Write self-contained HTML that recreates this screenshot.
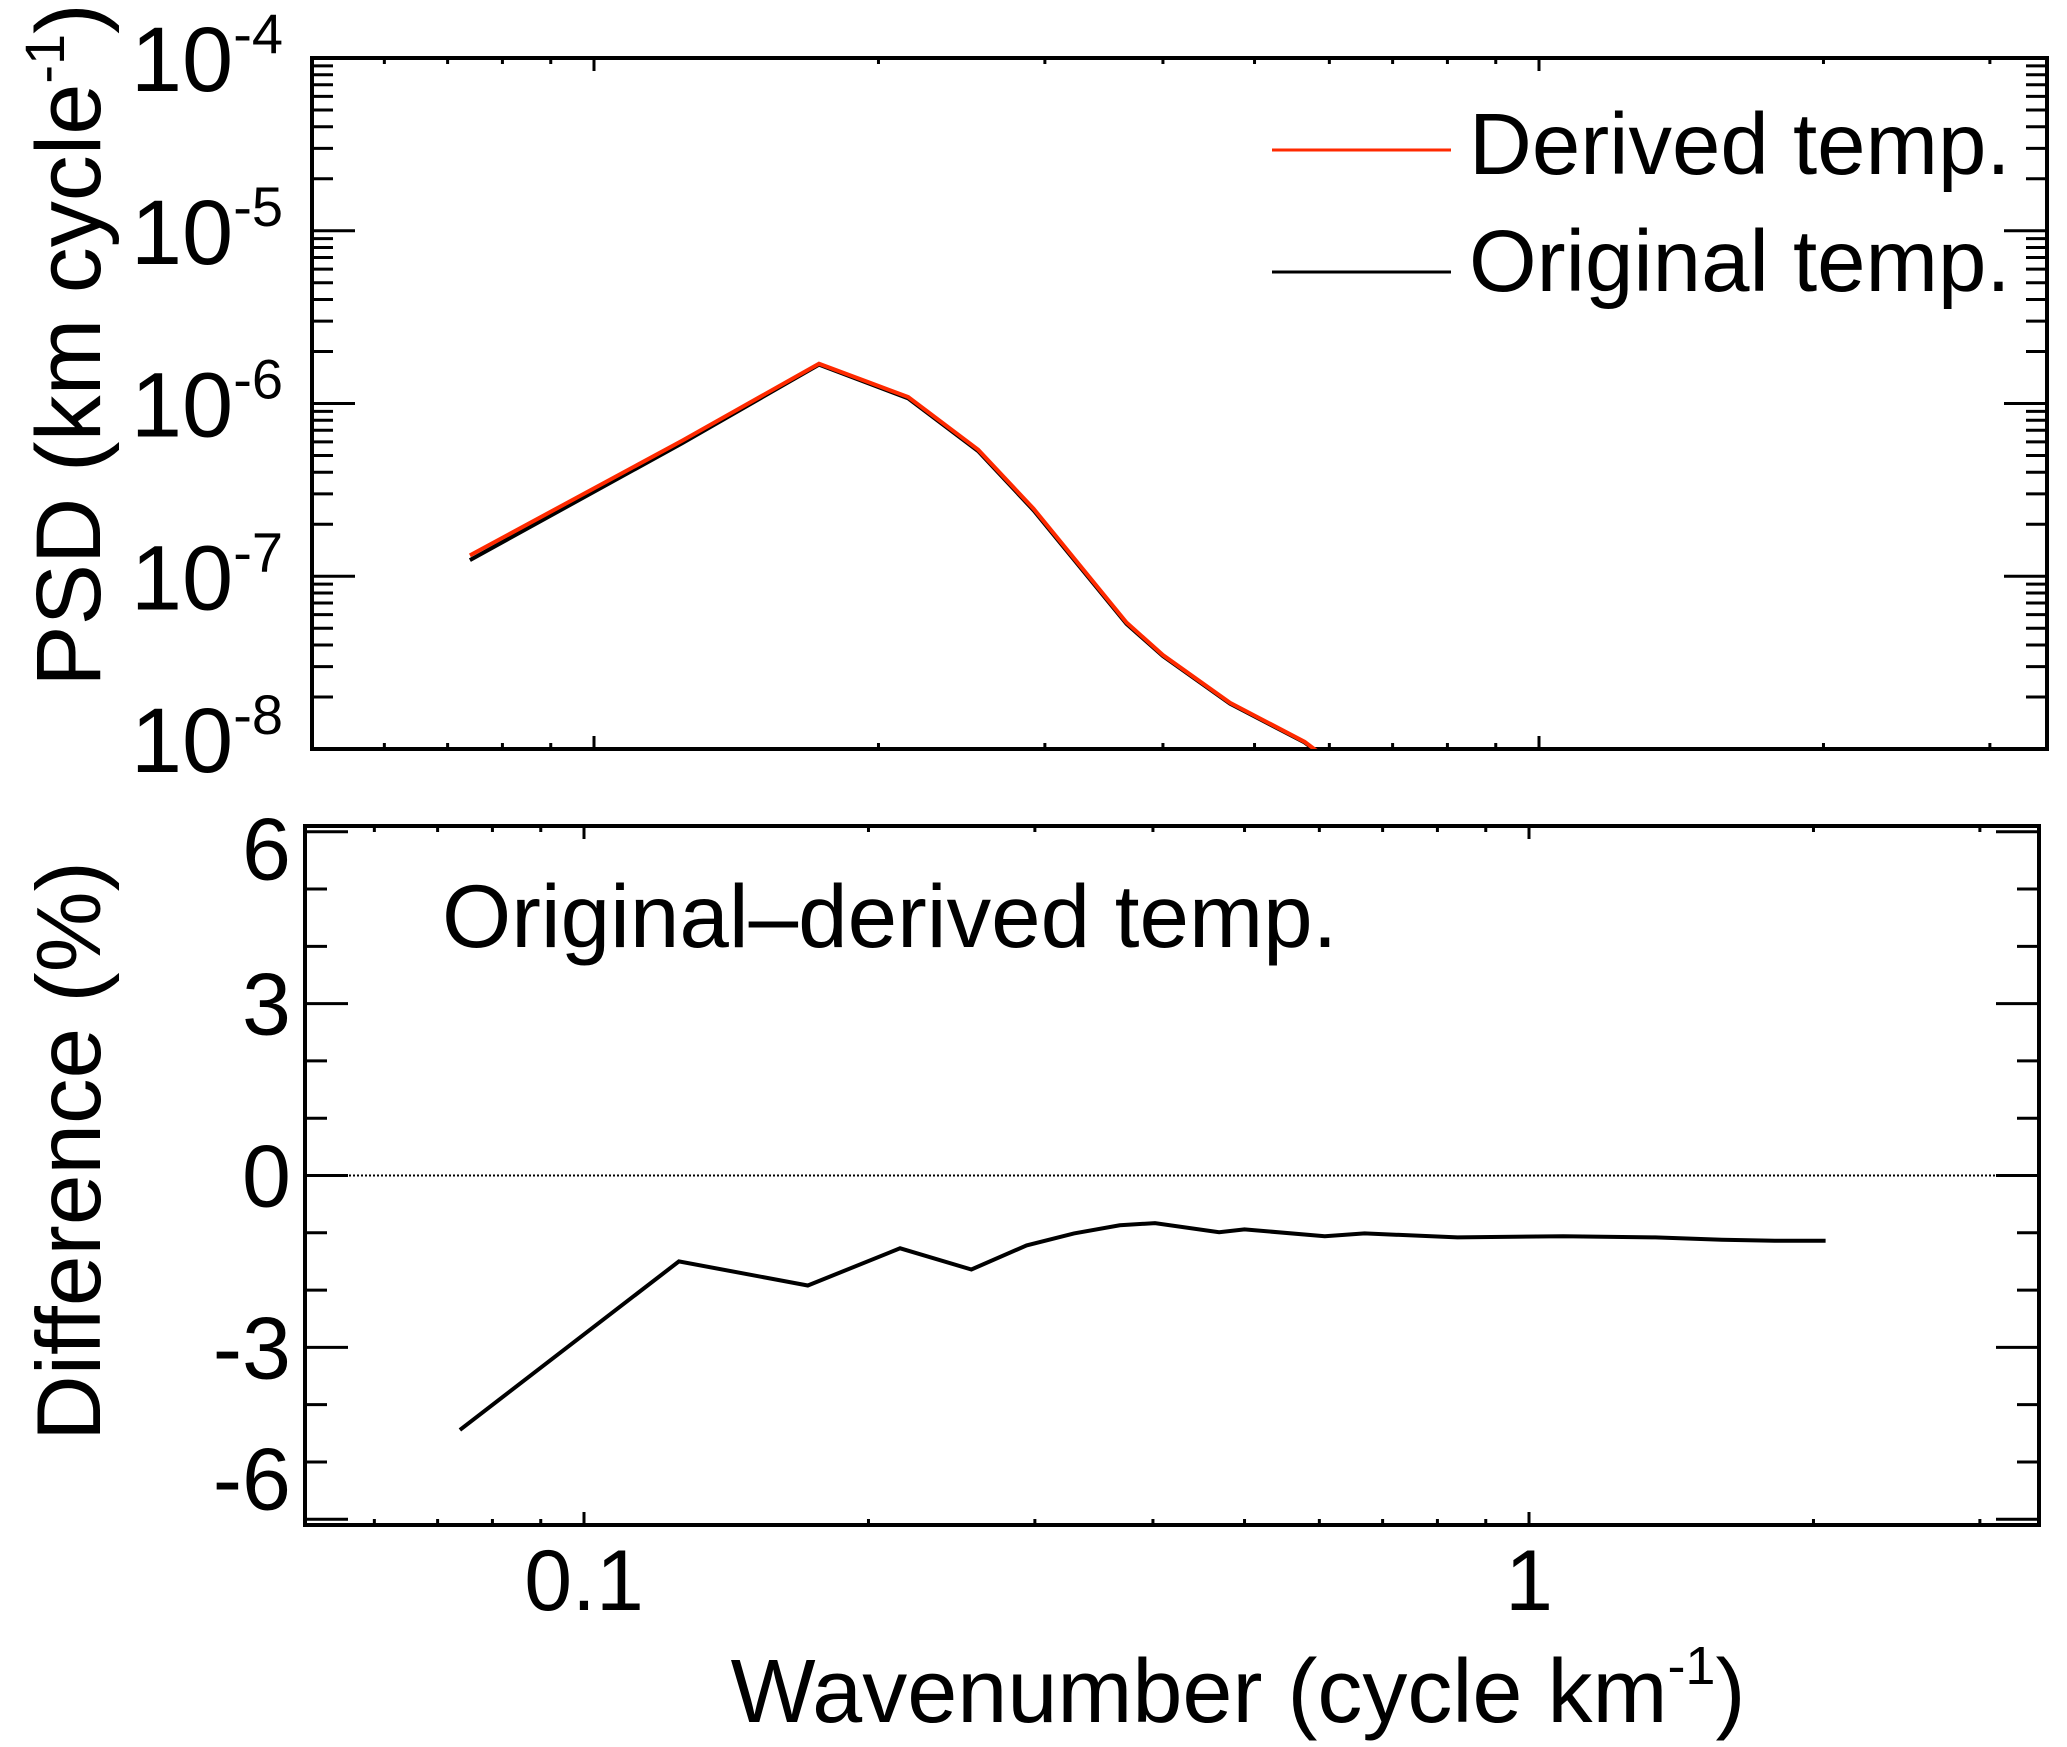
<!DOCTYPE html>
<html><head><meta charset="utf-8"><style>
html,body{margin:0;padding:0;background:#fff}
svg{display:block}
text{font-family:"Liberation Sans",Arial,sans-serif;fill:#000}
</style></head><body>
<svg id="chart" width="2067" height="1747" viewBox="0 0 2067 1747" xmlns="http://www.w3.org/2000/svg"></svg>
<script>
// ---- data ----
const psdK = [0.0739, 0.124, 0.173, 0.215, 0.255, 0.292, 0.366, 0.400, 0.471, 0.565, 0.62];
const psdDerived = [1.32e-7, 6.1e-7, 1.70e-6, 1.09e-6, 5.4e-7, 2.45e-7, 5.4e-8, 3.5e-8, 1.85e-8, 1.1e-8, 7.5e-9];
const psdOriginal = [1.24e-7, 5.9e-7, 1.68e-6, 1.07e-6, 5.3e-7, 2.4e-7, 5.3e-8, 3.45e-8, 1.83e-8, 1.09e-8, 7.4e-9];
const diffK = [0.0739, 0.126, 0.1725, 0.216, 0.257, 0.294, 0.33, 0.369, 0.402, 0.47, 0.5, 0.608, 0.67, 0.84, 1.087, 1.36, 1.6, 1.82, 2.06];
const diffVals = [-4.44, -1.50, -1.92, -1.27, -1.64, -1.22, -1.01, -0.87, -0.83, -0.99, -0.94, -1.06, -1.01, -1.08, -1.06, -1.08, -1.12, -1.14, -1.14];
const psdTickExps = [-4, -5, -6, -7, -8];
const diffTicks = [6, 3, 0, -3, -6];
const xTickLabels = ["0.1", "1"];
const xTickVals = [0.1, 1];

const NS = "http://www.w3.org/2000/svg";
const svg = document.getElementById("chart");
function mk(tag, attrs, parent) {
  const e = document.createElementNS(NS, tag);
  for (const k in attrs) e.setAttribute(k, attrs[k]);
  (parent || svg).appendChild(e);
  return e;
}
const DEC = 945;
const T = {l:312, r:2047, t:58, b:749, x1:1539};
const B = {l:305, r:2039, t:826, b:1525, x1:1529};
const xT = k => T.x1 + DEC*Math.log10(k);
const xB = k => B.x1 + DEC*Math.log10(k);
const yT = v => T.t + (-4 - Math.log10(v)) * ((T.b - T.t)/4);
const yB = v => 1175.5 - v * ((B.b - B.t)/12.2);

function xMinorTicks(P, xf, g) {
  for (let d = 0.01; d <= 10; d *= 10) {
    for (let m = 1; m <= 9; m++) {
      const x = xf(d*m);
      if (x <= P.l + 2 || x >= P.r - 2) continue;
      const len = m === 1 ? 13 : 6;
      mk("line", {x1:x, x2:x, y1:P.b, y2:P.b-len, stroke:"#000","stroke-width":3}, g);
      mk("line", {x1:x, x2:x, y1:P.t, y2:P.t+len, stroke:"#000","stroke-width":3}, g);
    }
  }
}

// ---- top panel ----
const gT = mk("g", {});


const cp = mk("clipPath", {id:"clipT"});
mk("rect", {x:T.l, y:T.t, width:T.r-T.l, height:T.b-T.t}, cp);
for (let e = -8; e < -4; e++) {
  for (let m = 1; m <= 9; m++) {
    const v = m * Math.pow(10, e);
    const y = yT(v);
    const len = m === 1 ? 43 : 21;
    mk("line", {x1:T.l, x2:T.l+len, y1:y, y2:y, stroke:"#000","stroke-width":3}, gT);
    mk("line", {x1:T.r, x2:T.r-len, y1:y, y2:y, stroke:"#000","stroke-width":3}, gT);
  }
}
xMinorTicks(T, xT, gT);
const frameT = mk("rect", {x:T.l, y:T.t, width:T.r-T.l, height:T.b-T.t, fill:"none", stroke:"#000","stroke-width":4}, gT);


psdTickExps.forEach(e => {
  const y = yT(Math.pow(10, e));
  const base = e === -8 ? y + 23 : y + 33;
  const t = mk("text", {x:283, y:base, "text-anchor":"end", "font-size":92}, gT);
  
  
  const a = mk("tspan", {}, t); a.textContent = "10";
  const b = mk("tspan", {dy:-38, "font-size":56}, t); b.textContent = "-" + Math.abs(e);
});
function pathFrom(xs, ys, xf, yf) {
  return xs.map((k,i) => (i?"L":"M") + xf(k).toFixed(1) + "," + yf(ys[i]).toFixed(1)).join(" ");
}
const lo = mk("path", {d:pathFrom(psdK, psdOriginal, xT, yT), fill:"none", stroke:"#000","stroke-width":4,"clip-path":"url(#clipT)"}, gT);


const ld = mk("path", {d:pathFrom(psdK, psdDerived, xT, yT), fill:"none", stroke:"#ff2a00","stroke-width":4,"clip-path":"url(#clipT)"}, gT);


const lg = mk("g", {}, gT);


const l1 = mk("line", {x1:1272, x2:1451, y1:150, y2:150, stroke:"#ff2a00","stroke-width":3}, lg);


const t1 = mk("text", {x:1469, y:174, "font-size":87}, lg);


t1.textContent = "Derived temp.";
const l2 = mk("line", {x1:1272, x2:1451, y1:272, y2:272, stroke:"#000","stroke-width":3}, lg);


const t2 = mk("text", {x:1469, y:291, "font-size":87}, lg);


t2.textContent = "Original temp.";
const yt1 = mk("text", {x:0, y:0, "font-size":92, "text-anchor":"middle", transform:"translate(100,345) rotate(-90)"}, gT);


const a1 = mk("tspan", {}, yt1); a1.textContent = "PSD (km cycle";
const a2 = mk("tspan", {dy:-36, "font-size":56}, yt1); a2.textContent = "-1";
const a3 = mk("tspan", {dy:36}, yt1); a3.textContent = ")";

// ---- bottom panel ----
const gB = mk("g", {});


for (let v = -6; v <= 6; v++) {
  const y = yB(v);
  const len = v % 3 === 0 ? 43 : 22;
  mk("line", {x1:B.l, x2:B.l+len, y1:y, y2:y, stroke:"#000","stroke-width":3}, gB);
  mk("line", {x1:B.r, x2:B.r-len, y1:y, y2:y, stroke:"#000","stroke-width":3}, gB);
}
xMinorTicks(B, xB, gB);
const frameB = mk("rect", {x:B.l, y:B.t, width:B.r-B.l, height:B.b-B.t, fill:"none", stroke:"#000","stroke-width":4}, gB);


const zl = mk("line", {x1:B.l, x2:B.r, y1:yB(0), y2:yB(0), stroke:"#000","stroke-width":2,"stroke-dasharray":"2,2"}, gB);


diffTicks.forEach(v => {
  let c = yB(v);
  if (v === 6) c += 17;
  if (v === -6) c -= 41;
  const t = mk("text", {x:291, y:c+31, "text-anchor":"end", "font-size":88}, gB);
  
  
  t.textContent = String(v);
});
const dl = mk("path", {d:pathFrom(diffK, diffVals, xB, yB), fill:"none", stroke:"#000","stroke-width":4}, gB);


const ann = mk("text", {x:442, y:947, "font-size":89}, gB);


ann.textContent = "Original\u2013derived temp.";
const yt2 = mk("text", {x:0, y:0, "font-size":91, "text-anchor":"middle", transform:"translate(100,1151) rotate(-90)"}, gB);


yt2.textContent = "Difference (%)";
xTickVals.forEach((k,i) => {
  const t = mk("text", {x:xB(k), y:1610, "text-anchor":"middle", "font-size":86}, gB);
  
  
  t.textContent = xTickLabels[i];
});
const xt = mk("text", {x:1238, y:1722, "text-anchor":"middle", "font-size":90}, gB);


const b1 = mk("tspan", {}, xt); b1.textContent = "Wavenumber (cycle km";
const b2 = mk("tspan", {dy:-38, "font-size":54}, xt); b2.textContent = "-1";
const b3 = mk("tspan", {dy:38}, xt); b3.textContent = ")";
</script>
</body></html>
